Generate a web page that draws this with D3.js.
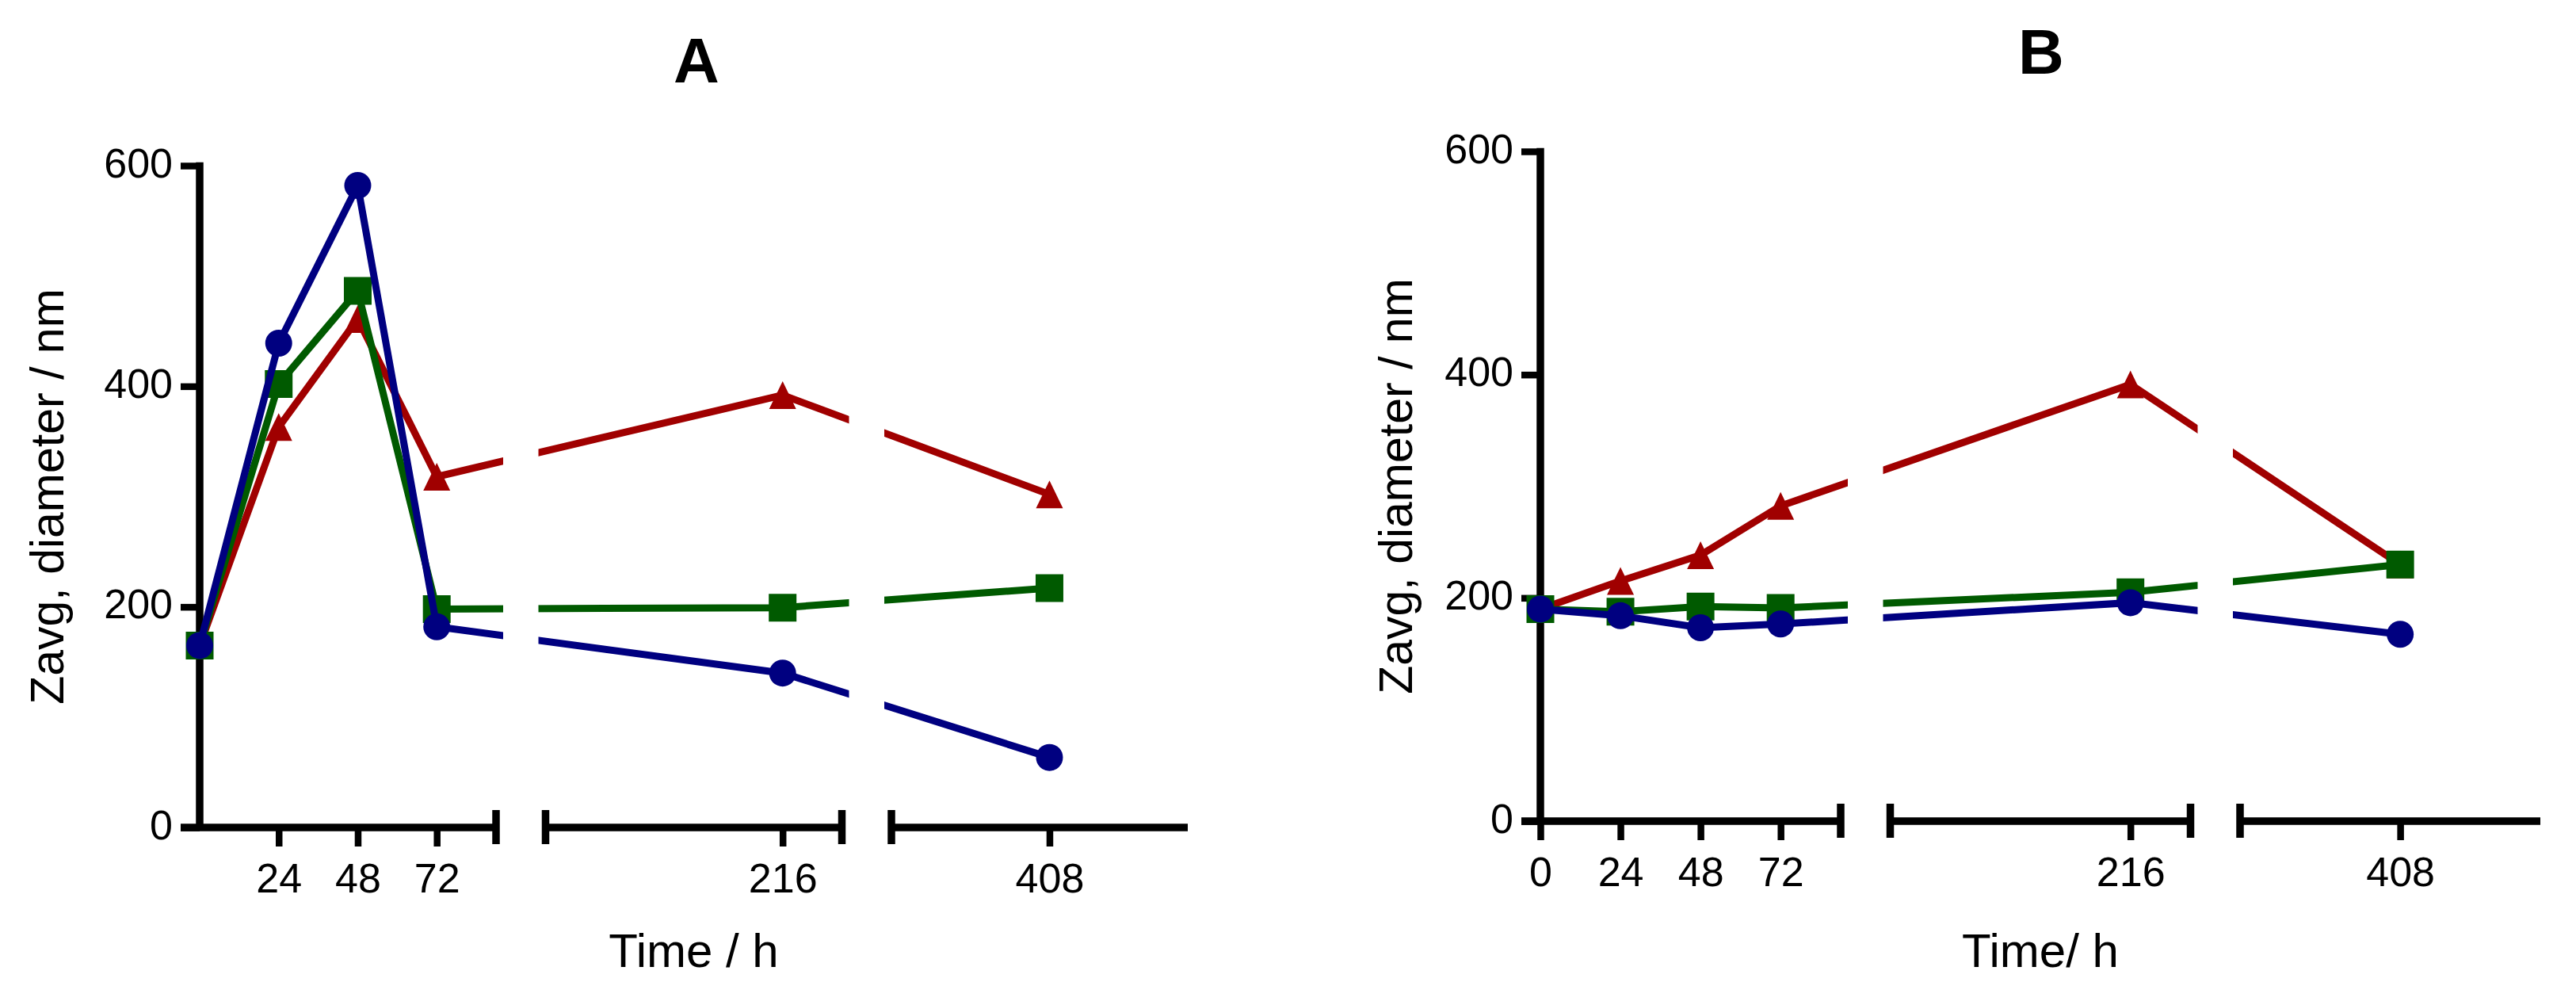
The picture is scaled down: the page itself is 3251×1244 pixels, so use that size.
<!DOCTYPE html>
<html>
<head>
<meta charset="utf-8">
<script src="https://cdn.jsdelivr.net/npm/d3@7"></script>
<style>
  body { margin: 0; background: #fff; }
  svg text { font-family: "Liberation Sans", Arial, Helvetica, sans-serif; fill: #000; }
</style>
</head>
<body>
<svg id="chart" width="3251" height="1244"></svg>
<script>
// time points (h) shared by both panels
const hours = [0, 24, 48, 72, 216, 408]
const yTicks = [0, 200, 400, 600]
const xTicksA = [24, 48, 72, 216, 408]
const xTicksB = [0, 24, 48, 72, 216, 408]
// broken x axis: three pieces of 90 h each
const xSegments = [[0, 90], [144, 234], [360, 450]]

// panel A, Zavg in nm
const circleA = [165, 439, 582, 182, 140, 63.5]
const squareA = [165, 402, 486.5, 198, 199.3, 217]
const triangleA = [165, 363, 461, 318, 392, 302]

// panel B, Zavg in nm
const circleB = [190, 184, 173.3, 176.6, 195.7, 167.4]
const squareB = [190, 187.6, 192.2, 191, 205, 229.9]
const triangleB = [190, 215.2, 238.3, 282.4, 391.3, 229.9]

const colors = { circle: '#000080', square: '#005a00', triangle: '#a00000' }

const panels = [
  { title: 'A', xLabel: 'Time / h', left: 252, bottom: 1044, top: 209, segW: 374, gap: 62.5,
    titleX: 879, titleY: 104, yLabelX: 80, xTicks: xTicksA,
    series: [['triangle', triangleA], ['square', squareA], ['circle', circleA]] },
  { title: 'B', xLabel: 'Time/ h', left: 1944, bottom: 1036, top: 191, segW: 379, gap: 62.5,
    titleX: 2576, titleY: 93, yLabelX: 1782, xTicks: xTicksB,
    series: [['triangle', triangleB], ['square', squareB], ['circle', circleB]] }
]

const axisW = 9.5
const lineW = 9

function markerPath(shape) {
  if (shape === 'circle') {
    const r = 17
    return `M${-r},0A${r},${r} 0 1,0 ${r},0A${r},${r} 0 1,0 ${-r},0Z`
  } else if (shape === 'square') {
    const h = 17.5
    return `M${-h},${-h}H${h}V${h}H${-h}Z`
  }
  return 'M0,-17.5L17,17.5L-17,17.5Z'
}

const svg = d3.select('#chart')
svg.append('rect').attr('width', 3251).attr('height', 1244).attr('fill', '#fff')

panels.forEach((p) => {
  const g = svg.append('g')

  const y = d3.scaleLinear().domain([0, 600]).range([p.bottom, p.top])
  const segScales = xSegments.map((dom, i) => {
    const x0 = p.left + i * (p.segW + p.gap)
    return d3.scaleLinear().domain(dom).range([x0, x0 + p.segW])
  })
  function xPos(t) {
    const i = xSegments.findIndex((d) => t >= d[0] && t <= d[1])
    return segScales[i](t)
  }

  // y axis
  const yAxis = g.append('g')
    .attr('transform', `translate(${p.left},0)`)
    .call(d3.axisLeft(y).tickValues(yTicks).tickSize(24).tickPadding(10))
  yAxis.select('.domain').remove()
  yAxis.selectAll('.tick line').attr('stroke', '#000').attr('stroke-width', 8.5)
  yAxis.selectAll('.tick text').attr('font-size', 52).attr('dy', '0.27em')
  g.append('line')
    .attr('x1', p.left).attr('x2', p.left)
    .attr('y1', y(600) - 4.25).attr('y2', p.bottom)
    .attr('stroke', '#000').attr('stroke-width', axisW)

  // x axis pieces with break caps
  segScales.forEach((s, i) => {
    const [r0, r1] = s.range()
    const start = i === 0 ? p.left - 24 : r0
    g.append('line')
      .attr('x1', start).attr('x2', r1)
      .attr('y1', p.bottom).attr('y2', p.bottom)
      .attr('stroke', '#000').attr('stroke-width', axisW)
    const caps = []
    if (i > 0) caps.push(r0)
    if (i < 2) caps.push(r1)
    caps.forEach((cx) => {
      g.append('line')
        .attr('x1', cx).attr('x2', cx)
        .attr('y1', p.bottom - 22).attr('y2', p.bottom + 21)
        .attr('stroke', '#000').attr('stroke-width', axisW)
    })
    const dom = xSegments[i]
    const ticks = p.xTicks.filter((t) => t >= dom[0] && t <= dom[1])
    const xAxis = g.append('g')
      .attr('transform', `translate(0,${p.bottom})`)
      .call(d3.axisBottom(s).tickValues(ticks).tickSize(24).tickSizeOuter(0).tickPadding(21))
    xAxis.select('.domain').remove()
    xAxis.selectAll('.tick line').attr('stroke', '#000').attr('stroke-width', 8.5)
    xAxis.selectAll('.tick text').attr('font-size', 52)
  })

  // clip for the gaps in the data lines
  const clipId = 'clip' + p.title
  const clip = svg.append('clipPath').attr('id', clipId)
  segScales.forEach((s, i) => {
    const [r0, r1] = s.range()
    const a = i === 0 ? 0 : r0 - 9
    const b = i === 2 ? 3251 : r1 + 9
    clip.append('rect').attr('x', a).attr('y', 0).attr('width', b - a).attr('height', 1244)
  })

  const line = d3.line()
    .x((d) => xPos(d.t))
    .y((d) => y(d.v))

  p.series.forEach(([shape, values]) => {
    const pts = hours.map((t, i) => ({ t: t, v: values[i] }))
    g.append('path')
      .datum(pts)
      .attr('d', line)
      .attr('fill', 'none')
      .attr('stroke', colors[shape])
      .attr('stroke-width', lineW)
      .attr('stroke-linejoin', 'miter')
      .attr('clip-path', `url(#${clipId})`)
    g.append('g')
      .selectAll('path')
      .data(pts)
      .join('path')
      .attr('d', markerPath(shape))
      .attr('transform', (d) => `translate(${xPos(d.t)},${y(d.v)})`)
      .attr('fill', colors[shape])
  })

  // titles and axis labels
  g.append('text')
    .attr('x', p.titleX).attr('y', p.titleY)
    .attr('text-anchor', 'middle')
    .attr('font-size', 80).attr('font-weight', 'bold')
    .text(p.title)
  const xMid = (p.left + segScales[2].range()[1]) / 2
  g.append('text')
    .attr('x', xMid).attr('y', 1220)
    .attr('text-anchor', 'middle')
    .attr('font-size', 60)
    .text(p.xLabel)
  g.append('text')
    .attr('transform', `translate(${p.yLabelX},${(p.top + p.bottom) / 2}) rotate(-90)`)
    .attr('text-anchor', 'middle')
    .attr('font-size', 59)
    .text('Zavg, diameter / nm')
})
</script>
</body>
</html>
